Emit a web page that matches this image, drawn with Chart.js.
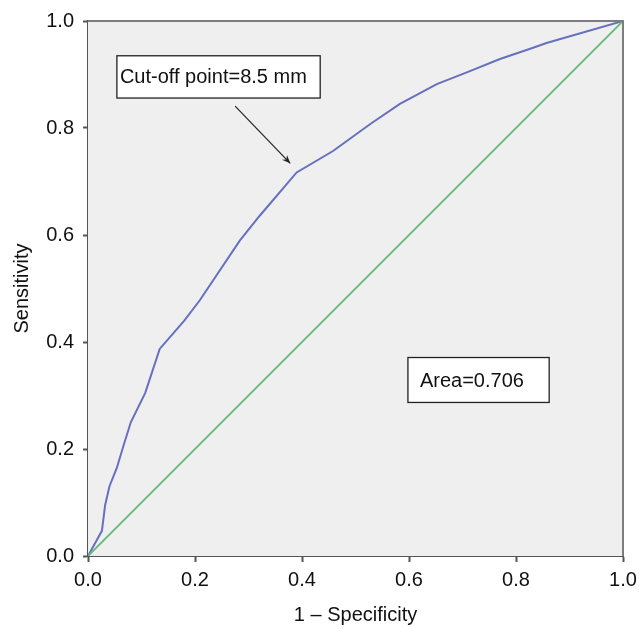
<!DOCTYPE html>
<html>
<head>
<meta charset="utf-8">
<script src="https://cdn.jsdelivr.net/npm/chart.js@4"></script>
<style>
html,body{margin:0;padding:0;background:#fff;}
#wrap{width:639px;height:629px;position:relative;}
</style>
</head>
<body>
<div id="wrap"><canvas id="c"></canvas></div>
<script>
// ROC curve
const fpr = [0, 0.026, 0.032, 0.040, 0.054, 0.066, 0.080, 0.107, 0.134, 0.180, 0.209, 0.284, 0.321, 0.390, 0.458, 0.527, 0.583, 0.652, 0.708, 0.770, 0.832, 0.857, 1.0];
const tpr = [0, 0.047, 0.095, 0.130, 0.165, 0.205, 0.250, 0.305, 0.387, 0.440, 0.478, 0.590, 0.636, 0.717, 0.757, 0.807, 0.845, 0.882, 0.904, 0.929, 0.950, 0.959, 1.0];
// reference (chance) line
const refX = [0, 1];
const refY = [0, 1];
const tickValues = [0, 0.2, 0.4, 0.6, 0.8, 1.0];
const xTitle = '1 – Specificity';
const yTitle = 'Sensitivity';
const cutoffLabel = 'Cut-off point=8.5 mm';
const areaLabel = 'Area=0.706';
// annotation anchors in data units
const cutoffBox = [0.054, 0.935, 0.434, 0.856];
const cutoffArrow = [0.275, 0.841, 0.378, 0.734];
const areaBox = [0.598, 0.371, 0.862, 0.287];

const FONT = 'Liberation Sans, Arial, sans-serif';

const rocData = fpr.map((x, i) => ({x: x, y: tpr[i]}));
const refData = refX.map((x, i) => ({x: x, y: refY[i]}));

const decor = {
  id: 'decor',
  beforeDatasetsDraw(chart) {
    const {ctx, chartArea: a} = chart;
    ctx.save();
    ctx.fillStyle = '#efefef';
    ctx.fillRect(a.left, a.top, a.right - a.left, a.bottom - a.top);
    ctx.restore();
  },
  afterDatasetsDraw(chart) {
    const {ctx, chartArea: a, scales} = chart;
    const X = v => scales.x.getPixelForValue(v);
    const Y = v => scales.y.getPixelForValue(v);
    ctx.save();
    // top and right frame
    ctx.strokeStyle = '#7d7d7d';
    ctx.lineWidth = 2;
    ctx.beginPath();
    ctx.moveTo(a.left, a.top);
    ctx.lineTo(a.right, a.top);
    ctx.lineTo(a.right, a.bottom);
    ctx.stroke();

    function box(b, text, padX) {
      const x0 = X(b[0]), y0 = Y(b[1]), x1 = X(b[2]), y1 = Y(b[3]);
      ctx.fillStyle = '#ffffff';
      ctx.fillRect(x0, y0, x1 - x0, y1 - y0);
      ctx.strokeStyle = '#222';
      ctx.lineWidth = 1.3;
      ctx.strokeRect(x0, y0, x1 - x0, y1 - y0);
      ctx.fillStyle = '#111';
      ctx.font = '20px ' + FONT;
      ctx.textAlign = 'left';
      ctx.textBaseline = 'middle';
      ctx.fillText(text, x0 + padX, (y0 + y1) / 2 + 1);
    }
    box(cutoffBox, cutoffLabel, 3);
    box(areaBox, areaLabel, 12);

    // arrow
    const ax0 = X(cutoffArrow[0]), ay0 = Y(cutoffArrow[1]);
    const ax1 = X(cutoffArrow[2]), ay1 = Y(cutoffArrow[3]);
    ctx.strokeStyle = '#222';
    ctx.lineWidth = 1.2;
    ctx.beginPath();
    ctx.moveTo(ax0, ay0);
    ctx.lineTo(ax1, ay1);
    ctx.stroke();
    const ang = Math.atan2(ay1 - ay0, ax1 - ax0);
    const L = 9, W = 0.4;
    ctx.fillStyle = '#222';
    ctx.beginPath();
    ctx.moveTo(ax1, ay1);
    ctx.lineTo(ax1 - L * Math.cos(ang - W), ay1 - L * Math.sin(ang - W));
    ctx.lineTo(ax1 - L * 0.6 * Math.cos(ang), ay1 - L * 0.6 * Math.sin(ang));
    ctx.lineTo(ax1 - L * Math.cos(ang + W), ay1 - L * Math.sin(ang + W));
    ctx.closePath();
    ctx.fill();
    ctx.restore();
  }
};

new Chart(document.getElementById('c'), {
  type: 'scatter',
  data: {
    datasets: [
      {data: refData, showLine: true, borderColor: '#5dbb73', borderWidth: 1.8, pointRadius: 0, tension: 0},
      {data: rocData, showLine: true, borderColor: '#6670bf', borderWidth: 2, pointRadius: 0, tension: 0}
    ]
  },
  options: {
    responsive: true,
    maintainAspectRatio: false,
    animation: false,
    layout: {padding: {top: 20, right: 16, left: 0, bottom: 0}},
    plugins: {legend: {display: false}, tooltip: {enabled: false}},
    scales: {
      x: {
        type: 'linear', min: 0, max: 1,
        afterFit: s => { s.height = 73; s.paddingRight = 0; s.paddingLeft = 0; },
        afterBuildTicks: s => { s.ticks = tickValues.map(v => ({value: v})); },
        ticks: {callback: v => v.toFixed(1), color: '#111', font: {size: 20, family: FONT}, padding: 6, maxRotation: 0},
        grid: {drawOnChartArea: false, drawTicks: true, tickLength: 6, tickWidth: 2, tickColor: '#555'},
        border: {display: true, color: '#555', width: 2},
        title: {display: true, text: xTitle, color: '#111', font: {size: 20, family: FONT}, padding: {top: 0, bottom: 2}}
      },
      y: {
        type: 'linear', min: 0, max: 1,
        afterFit: s => { s.width = 88; },
        afterBuildTicks: s => { s.ticks = tickValues.map(v => ({value: v})); },
        ticks: {callback: v => v.toFixed(1), color: '#111', font: {size: 20, family: FONT}, padding: 9},
        grid: {drawOnChartArea: false, drawTicks: true, tickLength: 5, tickWidth: 2, tickColor: '#555'},
        border: {display: true, color: '#555', width: 2},
        title: {display: true, text: yTitle, color: '#111', font: {size: 20, family: FONT}, padding: {top: 10, bottom: 0}}
      }
    }
  },
  plugins: [decor]
});
</script>
</body>
</html>
